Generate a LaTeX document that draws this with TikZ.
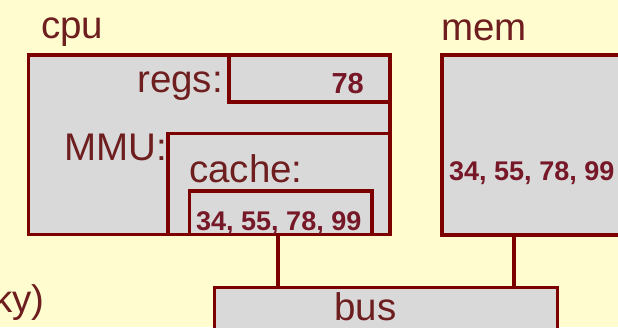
\documentclass[tikz,border=0pt]{standalone}
\usepackage{fontspec}
\setmainfont{Liberation Sans}
\usepackage{tikz}
\usetikzlibrary{positioning}

\definecolor{pagebg}{RGB}{255,253,208}
\definecolor{boxfill}{RGB}{217,217,217}
\definecolor{boxline}{RGB}{125,0,0}
\definecolor{lbltext}{RGB}{110,30,30}
\definecolor{numtext}{RGB}{118,24,40}

\begin{document}
\begin{tikzpicture}[
    x=1pt, y=-1pt,
    unit/.style={draw=boxline, fill=boxfill, line width=3.6pt, rectangle,
      inner sep=0pt, outer sep=0pt, anchor=north west},
    lbl/.style={text=lbltext, inner sep=0pt, font=\fontsize{38.5}{41}\selectfont},
    vals/.style={text=numtext, inner sep=0pt, font=\bfseries\fontsize{27}{30}\selectfont},
    wire/.style={draw=boxline, line width=3.6pt},
  ]
  \path[use as bounding box, fill=pagebg] (0,0) rectangle (618,327);
  \clip (0,0) rectangle (618,327);
  % cpu with its registers, mmu and cache
  \node[unit, minimum width=361.5pt, minimum height=179.5pt] (cpu)   at (28.5,55)  {};
  \node[unit, minimum width=161pt,   minimum height=47pt]    (regs)  at (229,55)   {};
  \node[unit, minimum width=222pt,   minimum height=101pt]   (mmu)   at (168,133.5) {};
  \node[unit, minimum width=182.5pt, minimum height=43.5pt]  (cache) at (189.5,191) {};
  % memory and bus
  \node[unit, minimum width=200pt,   minimum height=180pt]   (mem)   at (442,55)   {};
  \node[unit, minimum width=343pt,   minimum height=50pt]    (bus)   at (214.5,287.5) {};
  % labels
  \node[lbl, anchor=base west] (cpulbl)   at (41,38)   {cpu};
  \node[lbl, anchor=base west] (memlbl)   at (441,40)  {mem};
  \node[lbl, anchor=base east] (regslbl)  at (223,92)  {regs:};
  \node[lbl, anchor=base east] (mmulbl)   at (167,160) {MMU:};
  \node[lbl, anchor=base west] (cachelbl) at (189,182) {cache:};
  \node[lbl, anchor=base west] (buslbl)   at (334,320) {bus};
  \node[lbl, anchor=base east] (notelbl)  at (45,312)  {ky)};
  % values
  \node[vals, anchor=base east, font=\bfseries\fontsize{29}{32}\selectfont] (regsval) at (364,93) {78};
  \node[vals, anchor=base west] (cacheval) at (196,230) {34, 55, 78, 99};
  \node[vals, anchor=base west] (memval)   at (449,180) {34, 55, 78, 99};
  % connections to the bus
  \draw[wire] ([xshift=88.5pt]cache.south west) -- ([xshift=88.5pt]cache.south west |- bus.north);
  \draw[wire] ([xshift=72pt]mem.south west) -- ([xshift=72pt]mem.south west |- bus.north);
\end{tikzpicture}
\end{document}
